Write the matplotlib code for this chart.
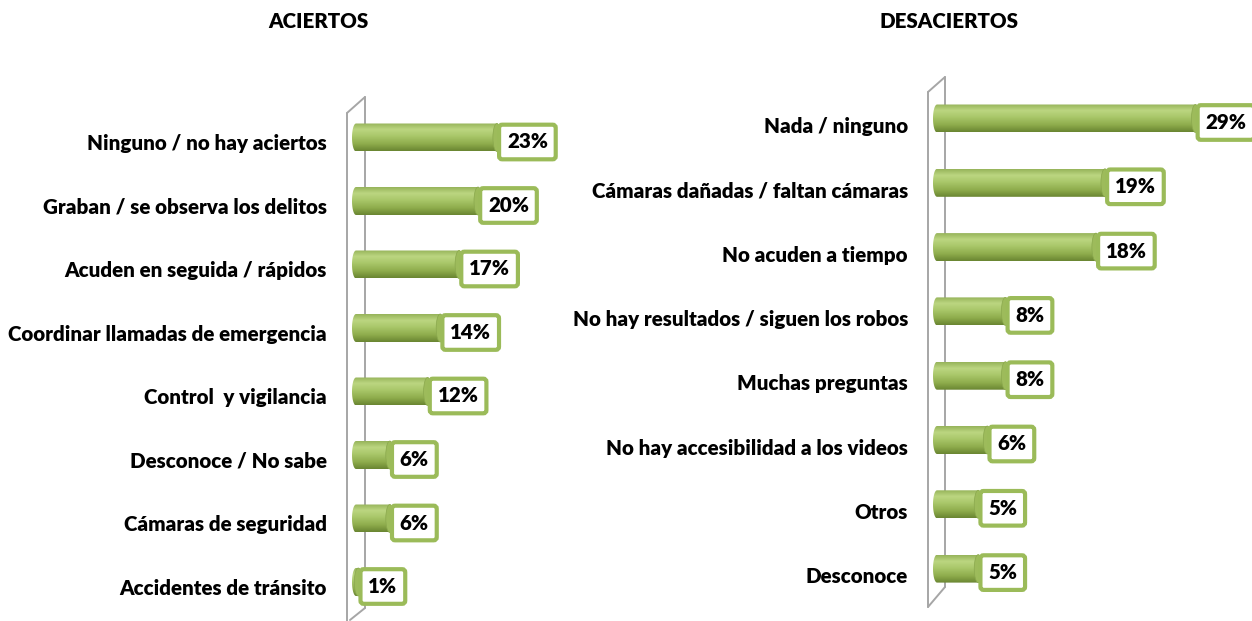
import numpy as np
import matplotlib.pyplot as plt
from matplotlib.colors import LinearSegmentedColormap
from matplotlib.patches import PathPatch, Ellipse
from matplotlib.path import Path

# ------------------------------------------------------------
# data
# ------------------------------------------------------------
aciertos_labels = [
    "Ninguno / no hay aciertos",
    "Graban / se observa los delitos",
    "Acuden en seguida / rápidos",
    "Coordinar llamadas de emergencia",
    "Control  y vigilancia",
    "Desconoce / No sabe",
    "Cámaras de seguridad",
    "Accidentes de tránsito",
]
aciertos_values = [23, 20, 17, 14, 12, 6, 6, 1]

desaciertos_labels = [
    "Nada / ninguno",
    "Cámaras dañadas / faltan cámaras",
    "No acuden a tiempo",
    "No hay resultados / siguen los robos",
    "Muchas preguntas",
    "No hay accesibilidad a los videos",
    "Otros",
    "Desconoce",
]
desaciertos_values = [29, 19, 18, 8, 8, 6, 5, 5]

# ------------------------------------------------------------
# style
# ------------------------------------------------------------
W, H = 1252, 621
plt.rcParams["font.family"] = ["Lato", "DejaVu Sans"]
FS = 14.8
WEIGHT = "heavy"
GREEN = "#9BBB59"
WALL = "#A6A6A6"
cyl_cmap = LinearSegmentedColormap.from_list(
    "cyl",
    [(0.0, "#97B45A"), (0.22, "#BCD681"), (0.45, "#AAC86B"),
     (0.75, "#8EAC4C"), (1.0, "#6A8632")],
)
grad = np.linspace(0, 1, 64).reshape(-1, 1)

fig = plt.figure(figsize=(W / 100, H / 100), dpi=100)


def draw_panel(x_left, x_right, bar0, px_per, row0, row_px,
               labels, values, wall, text_dy, box_dy, title, title_x):
    top_px, bot_px = 40, H
    ax = fig.add_axes([x_left / W, 1 - bot_px / H,
                       (x_right - x_left) / W, (bot_px - top_px) / H])
    ax.axis("off")

    def px(x, y):
        return (x - bar0) / px_per, (y - row0) / row_px

    # back wall of the 3d chart
    for (x1, y1), (x2, y2) in zip(wall[:-1], wall[1:]):
        a, b = px(x1, y1), px(x2, y2)
        ax.plot([a[0], b[0]], [a[1], b[1]], color=WALL, lw=1.4, zorder=1,
                solid_capstyle="round")

    rx = 4 / px_per
    half = 14 / row_px
    for i, (lab, v) in enumerate(zip(labels, values)):
        # cylinder outline with rounded ends
        t1 = np.linspace(np.pi / 2, 3 * np.pi / 2, 24)
        t2 = np.linspace(-np.pi / 2, np.pi / 2, 24)
        xe = max(v, rx)
        left = np.column_stack([rx + rx * np.cos(t1), i - half * np.sin(t1)])
        right = np.column_stack([xe + rx * np.cos(t2), i - half * np.sin(t2)])
        verts = np.vstack([left, right, left[:1]])
        outline = PathPatch(Path(verts), transform=ax.transData,
                            fc="none", ec="none")
        ax.add_patch(outline)
        im = ax.imshow(grad, cmap=cyl_cmap, aspect="auto", origin="upper",
                       extent=[0, xe + rx, i + half, i - half], zorder=2,
                       interpolation="bilinear")
        im.set_clip_path(outline)
        ax.add_patch(Ellipse((xe, i), 2 * rx, 2 * half, fc="#9DBB5B",
                             ec="#8AA84D", lw=0.5, zorder=3))

        ax.text(-25 / px_per, i + text_dy / row_px, lab, ha="right",
                va="center", fontsize=FS, fontweight=WEIGHT)
        ax.annotate(f"{v}%", xy=(v, i + box_dy / row_px), xytext=(10, 0),
                    textcoords="offset pixels", ha="left", va="center",
                    fontsize=FS, fontweight=WEIGHT, zorder=5,
                    bbox=dict(boxstyle="round,pad=0.38,rounding_size=0.15",
                              fc="white", ec=GREEN, lw=3))

    x0, y0 = px(x_left, bot_px)
    x1, y1 = px(x_right, top_px)
    ax.set_xlim(x0, x1)
    ax.set_ylim(y0, y1)

    fig.text(title_x / W, 1 - 22 / H, title, ha="center", va="center",
             fontsize=FS, fontweight=WEIGHT)
    return ax


left_wall = [(347, 621), (347, 113), (365, 97), (365, 608), (350, 620)]
right_wall = [(945, 587), (928, 607), (928, 92), (945, 77), (945, 587)]

draw_panel(0, 626, 352, 6.3, 137.5, 63.5, aciertos_labels, aciertos_values,
           left_wall, 6.5, 4.5, "ACIERTOS", 318)
draw_panel(626, 1252, 933, 9.05, 118.5, 64.3, desaciertos_labels,
           desaciertos_values, right_wall, 8, 4, "DESACIERTOS", 949)

fig.savefig("out.png", dpi=100)
